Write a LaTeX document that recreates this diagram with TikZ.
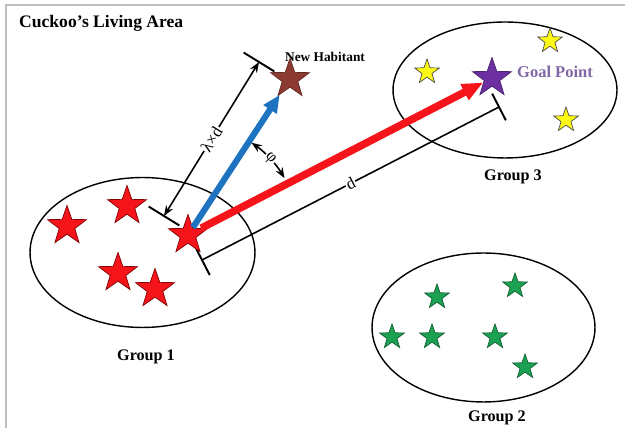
\documentclass[tikz,border=0pt]{standalone}
\usepackage{fontspec}
\setmainfont{Liberation Serif}
\usepackage{tikz}
\usetikzlibrary{shapes.geometric, arrows.meta, positioning, calc}
\definecolor{eggred}{RGB}{245,20,25}
\definecolor{nestbrown}{RGB}{140,58,50}
\definecolor{goalpurple}{RGB}{108,48,160}
\definecolor{goaltext}{RGB}{128,104,164}
\definecolor{migblue}{RGB}{30,115,192}
\definecolor{eggreen}{RGB}{28,160,82}
\definecolor{eggyellow}{RGB}{255,250,20}
\tikzstyle{habitat} = [ellipse, draw=black, line width=0.8pt, inner sep=0pt]
\tikzstyle{bigstar} = [star, star points=5, star point ratio=2.5, minimum size=0.82cm, inner sep=0pt, line width=0.4pt]
\tikzstyle{smallstar} = [star, star points=5, star point ratio=2.5, minimum size=0.52cm, inner sep=0pt, line width=0.4pt]
\tikzstyle{grouplabel} = [font=\fontsize{9.2}{11}\selectfont\bfseries]
\tikzstyle{dimline} = [line width=0.9pt]
\tikzstyle{dimtick} = [line width=1.1pt]
\tikzstyle{dimtext} = [fill=white, inner sep=0.6pt, font=\fontsize{9.5}{11}\selectfont]
\tikzstyle{bluemove} = [draw=migblue, line width=3.5pt, -{Triangle[length=10pt,width=8.5pt]}]
\tikzstyle{redmove} = [draw=eggred, line width=4.3pt, -{Triangle[length=12pt,width=9.5pt]}]

\begin{document}
\begin{tikzpicture}[x=0.02cm, y=0.02cm]
\useasboundingbox (0,0) rectangle (625,428);

% Frame and title
\draw[black!25, line width=1.2pt] (6,0) -- (6,423) -- (625,423);
\node[anchor=west, font=\fontsize{10}{12}\selectfont\bfseries] (title) at (13,405) {Cuckoo's Living Area};

% Groups
\node[habitat, minimum width=4.5cm, minimum height=3cm] (g1) at (142.5,175.5) {};
\node[habitat, minimum width=4.48cm, minimum height=2.72cm] (g3) at (505,338) {};
\node[habitat, minimum width=4.46cm, minimum height=2.98cm] (g2) at (483.5,100.5) {};
\node[grouplabel] (g1lab) at (146,71) {Group 1};
\node[grouplabel] (g3lab) at (513,251) {Group 3};
\node[grouplabel] (g2lab) at (497,10) {Group 2};

% Dimension lines
\coordinate (lb) at (164,212);
\coordinate (lt) at (259,366);
\coordinate (db) at (202,168);
\coordinate (dt) at (499,321);
\draw[dimtick] ($(lb)!0.36cm!90:(lt)$) -- ($(lb)!0.36cm!-90:(lt)$);
\draw[dimtick] ($(lt)!0.36cm!90:(lb)$) -- ($(lt)!0.36cm!-90:(lb)$);
\draw[dimline, {Stealth[length=6pt,width=4.5pt]}-{Stealth[length=6pt,width=4.5pt]}] (lb) -- (lt)
  node[dimtext, midway, sloped] (lamd) {λ×d};
\draw[dimtick] ($(db)!0.34cm!90:(dt)$) -- ($(db)!0.34cm!-90:(dt)$);
\draw[dimtick] ($(dt)!0.3cm!90:(db)$) -- ($(dt)!0.3cm!-90:(db)$);
\draw[dimline] (db) -- (dt) node[dimtext, midway, sloped] (dist) {d};

% Stars
\node[bigstar, fill=eggred, draw=red!50!black] (r1) at (67,202) {};
\node[bigstar, fill=eggred, draw=red!50!black] (r2) at (127,222) {};
\node[bigstar, fill=eggred, draw=red!50!black] (r3) at (118,155) {};
\node[bigstar, fill=eggred, draw=red!50!black] (r4) at (155,139) {};
\node[bigstar, fill=eggred, draw=red!50!black] (m) at (188,193) {};
\node[bigstar, fill=nestbrown, draw=nestbrown!70!black] (nh) at (290,349) {};
\node[bigstar, fill=goalpurple, draw=goalpurple!70!black] (goal) at (492,350) {};
\node[smallstar, fill=eggyellow, draw=black!70] (y1) at (427,356) {};
\node[smallstar, fill=eggyellow, draw=black!70] (y2) at (550,387) {};
\node[smallstar, fill=eggyellow, draw=black!70] (y3) at (566,308) {};
\node[smallstar, fill=eggreen, draw=eggreen!60!black] (gr1) at (437,131) {};
\node[smallstar, fill=eggreen, draw=eggreen!60!black] (gr2) at (515,142) {};
\node[smallstar, fill=eggreen, draw=eggreen!60!black] (gr3) at (392,91) {};
\node[smallstar, fill=eggreen, draw=eggreen!60!black] (gr4) at (432,91) {};
\node[smallstar, fill=eggreen, draw=eggreen!60!black] (gr5) at (495,91) {};
\node[smallstar, fill=eggreen, draw=eggreen!60!black] (gr6) at (525,61) {};
\node[font=\fontsize{7.6}{9}\selectfont\bfseries] (nhlab) at (325,371) {New Habitant};
\node[font=\fontsize{9.4}{11}\selectfont\bfseries, text=goaltext] (goallab) at (555,356) {Goal Point};

% Moves
\draw[bluemove] (m) -- (nh);
\draw[redmove] (m) -- (goal);

% Angle
\draw[dimline, {Stealth[length=6pt,width=4.5pt]}-{Stealth[length=6pt,width=4.5pt]}]
  ($(m.center)+(55.5:2.24cm)$) arc[start angle=55.5, end angle=30.5, radius=2.24cm];
\node[dimtext, rotate=-47] (phi) at ($(m.center)+(43:2.24cm)$) {φ};

\end{tikzpicture}
\end{document}
